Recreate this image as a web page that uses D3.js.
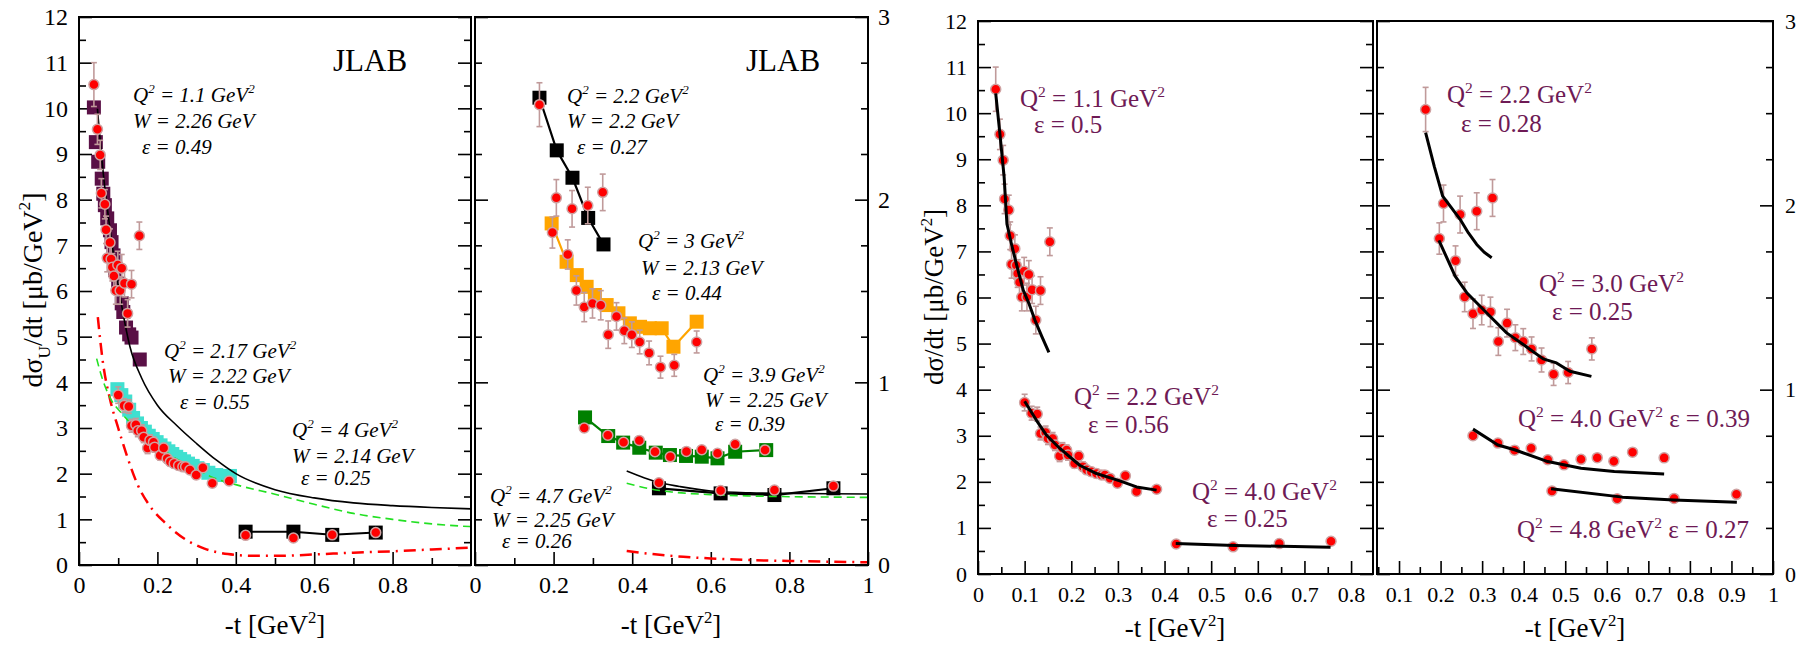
<!DOCTYPE html>
<html>
<head>
<meta charset="utf-8">
<script src="https://cdn.jsdelivr.net/npm/d3@7"></script>
<style>
body { margin: 0; background: #fff; }
text { white-space: pre; }
</style>
</head>
<body>
<div id="chart"></div>
<script>
// ---- data ----
// Q2 = 1.1 (eps 0.49 / 0.5)
const q11T = [0.038, 0.047, 0.054, 0.057, 0.066, 0.069, 0.079, 0.072, 0.082, 0.085, 0.099, 0.089, 0.109, 0.094, 0.105, 0.116, 0.134, 0.124, 0.154];
const q11V = [10.52, 9.54, 8.98, 8.14, 7.9, 7.34, 7.06, 6.72, 6.7, 6.52, 6.57, 6.33, 6.5, 6.01, 6.01, 6.17, 6.15, 5.51, 7.21];
const q11E = [0.48, 0.33, 0.32, 0.32, 0.32, 0.3, 0.3, 0.3, 0.3, 0.3, 0.3, 0.3, 0.3, 0.3, 0.3, 0.3, 0.3, 0.3, 0.3];
const q11SqT = [0.038, 0.043, 0.049, 0.058, 0.062, 0.066, 0.072, 0.079, 0.083, 0.088, 0.092, 0.1, 0.109, 0.113, 0.12, 0.128, 0.134, 0.155];
const q11SqV = [10.02, 9.26, 8.83, 8.46, 8.13, 7.88, 7.59, 7.33, 7.07, 6.78, 6.46, 6.16, 5.73, 5.54, 5.2, 5.05, 4.98, 4.5];
const q11FitT = [0.038, 0.047, 0.056, 0.062, 0.072, 0.082, 0.097, 0.11, 0.122, 0.137, 0.152];
const q11FitV = [10.43, 9.55, 8.62, 7.6, 7.15, 6.74, 6.16, 5.85, 5.51, 5.15, 4.81];

// Q2 = 2.2 (eps 0.55 / 0.56)
const q22aT = [0.1, 0.115, 0.127, 0.134, 0.145, 0.15, 0.16, 0.165, 0.175, 0.181, 0.19, 0.193, 0.207, 0.216, 0.225, 0.233, 0.243, 0.254, 0.265, 0.272, 0.283, 0.299, 0.316, 0.34, 0.383];
const q22aV = [3.72, 3.49, 3.47, 3.05, 3.07, 2.94, 2.94, 2.8, 2.56, 2.73, 2.69, 2.58, 2.4, 2.56, 2.33, 2.26, 2.22, 2.18, 2.15, 2.15, 2.08, 1.97, 2.13, 1.79, 1.84];
const q22aE = [0.18, 0.15, 0.15, 0.14, 0.14, 0.13, 0.13, 0.12, 0.12, 0.12, 0.11, 0.11, 0.1, 0.1, 0.1, 0.09, 0.09, 0.09, 0.08, 0.08, 0.08, 0.08, 0.08, 0.07, 0.07];
const q22aSqT = [0.098, 0.108, 0.118, 0.128, 0.138, 0.148, 0.158, 0.168, 0.178, 0.188, 0.198, 0.208, 0.218, 0.228, 0.238, 0.248, 0.258, 0.268, 0.278, 0.29, 0.302, 0.316, 0.33, 0.35, 0.385];
const q22aSqV = [3.85, 3.72, 3.58, 3.4, 3.22, 3.1, 3.0, 2.92, 2.83, 2.76, 2.69, 2.62, 2.55, 2.49, 2.43, 2.37, 2.32, 2.27, 2.22, 2.17, 2.12, 2.08, 2.02, 1.97, 1.95];
const q22aFitT = [0.1, 0.125, 0.147, 0.175, 0.218, 0.254, 0.304, 0.34, 0.383];
const q22aFitV = [3.75, 3.34, 3.01, 2.73, 2.36, 2.18, 2.02, 1.89, 1.82];

// Q2 = 4 (eps 0.25)
const q40aT = [0.425, 0.547, 0.646, 0.757];
const q40aV = [0.65, 0.59, 0.66, 0.71];
const q40aE = [0.03, 0.03, 0.03, 0.03];
const q40aSqV = [0.73, 0.73, 0.66, 0.71];
const q40aFitT = [0.424, 0.55, 0.756];
const q40aFitV = [0.66, 0.62, 0.58];

// Q2 = 2.2 (eps 0.27 / 0.28)
const q22bT = [0.164, 0.207, 0.247, 0.287, 0.325];
const q22bV = [2.52, 2.01, 1.95, 1.968, 2.04];
const q22bE = [0.12, 0.1, 0.1, 0.1, 0.1];
const q22bSqT = [0.164, 0.208, 0.248, 0.288, 0.327];
const q22bSqV = [2.558, 2.27, 2.12, 1.9, 1.755];
const q22bFitT = [0.164, 0.185, 0.205, 0.225, 0.247, 0.267, 0.287, 0.305, 0.323];
const q22bFitV = [2.395, 2.21, 2.05, 1.99, 1.924, 1.85, 1.788, 1.745, 1.716];

// Q2 = 3 (eps 0.44 / 0.25)
const q30T = [0.197, 0.236, 0.258, 0.278, 0.299, 0.32, 0.339, 0.36, 0.38, 0.399, 0.419, 0.443, 0.472, 0.507, 0.564];
const q30V = [1.82, 1.7, 1.503, 1.412, 1.432, 1.422, 1.261, 1.361, 1.282, 1.261, 1.221, 1.161, 1.083, 1.093, 1.221];
const q30E = [0.085, 0.08, 0.08, 0.08, 0.08, 0.08, 0.075, 0.075, 0.07, 0.07, 0.065, 0.065, 0.06, 0.06, 0.06];
const q30SqT = [0.195, 0.233, 0.259, 0.284, 0.305, 0.335, 0.365, 0.394, 0.42, 0.445, 0.475, 0.505, 0.564];
const q30SqV = [1.87, 1.66, 1.587, 1.523, 1.478, 1.423, 1.378, 1.323, 1.304, 1.296, 1.296, 1.195, 1.332];
const q30FitT = [0.196, 0.235, 0.263, 0.319, 0.359, 0.399, 0.447, 0.479, 0.511, 0.563];
const q30FitV = [1.81, 1.616, 1.526, 1.398, 1.308, 1.245, 1.167, 1.145, 1.1, 1.072];

// Q2 = 3.9 / 4.0 (eps 0.39)
const q39T = [0.278, 0.338, 0.378, 0.418, 0.458, 0.497, 0.538, 0.577, 0.617, 0.662, 0.738];
const q39V = [0.75, 0.71, 0.672, 0.682, 0.62, 0.592, 0.622, 0.631, 0.612, 0.661, 0.63];
const q39E = [0.02, 0.02, 0.02, 0.02, 0.02, 0.02, 0.02, 0.02, 0.02, 0.02, 0.02];
const q39SqT = [0.28, 0.339, 0.377, 0.418, 0.46, 0.496, 0.537, 0.577, 0.617, 0.662, 0.741];
const q39SqV = [0.808, 0.706, 0.67, 0.642, 0.615, 0.602, 0.597, 0.593, 0.584, 0.62, 0.629];
const q39FitT = [0.278, 0.338, 0.378, 0.458, 0.538, 0.618, 0.738];
const q39FitV = [0.786, 0.7, 0.674, 0.61, 0.574, 0.556, 0.543];

// Q2 = 4.7 / 4.8 (eps 0.26 / 0.27)
const q47T = [0.468, 0.625, 0.762, 0.912];
const q47V = [0.45, 0.408, 0.41, 0.432];
const q47E = [0.015, 0.015, 0.015, 0.015];
const q47SqV = [0.42, 0.392, 0.383, 0.42];
const q47FitT = [0.466, 0.638, 0.761, 0.913];
const q47FitV = [0.463, 0.417, 0.402, 0.389];

// model curves, left figure, left panel (left axis)
const lowSolidT = [0.047, 0.062, 0.083, 0.105, 0.13, 0.16, 0.2, 0.25, 0.3, 0.35, 0.4, 0.5, 0.6, 0.7, 0.8, 0.9, 1.0];
const lowSolidV = [9.99, 8.57, 7.11, 5.87, 4.78, 4.09, 3.5, 3.05, 2.66, 2.3, 2.0, 1.65, 1.47, 1.36, 1.3, 1.26, 1.23];
const lowDashT = [0.045, 0.058, 0.08, 0.109, 0.14, 0.168, 0.21, 0.253, 0.3, 0.338, 0.4, 0.5, 0.6, 0.7, 0.8, 0.9, 1.0];
const lowDashV = [4.52, 4.12, 3.65, 3.32, 3.03, 2.81, 2.55, 2.3, 2.1, 1.93, 1.76, 1.55, 1.33, 1.13, 1.0, 0.9, 0.84];
const lowDotT = [0.048, 0.06, 0.08, 0.1, 0.12, 0.15, 0.18, 0.22, 0.27, 0.32, 0.38, 0.45, 0.5, 0.6, 0.7, 0.8, 0.9, 1.0];
const lowDotV = [5.43, 4.5, 3.6, 3.0, 2.45, 1.75, 1.3, 0.92, 0.57, 0.36, 0.24, 0.2, 0.2, 0.23, 0.27, 0.3, 0.34, 0.38];
// model curves, left figure, right panel (right axis)
const hiSolidT = [0.386, 0.43, 0.47, 0.52, 0.6, 0.7, 0.8, 0.9, 1.0];
const hiSolidV = [0.514, 0.478, 0.45, 0.43, 0.405, 0.395, 0.392, 0.39, 0.389];
const hiDashT = [0.386, 0.45, 0.5, 0.6, 0.7, 0.8, 0.9, 1.0];
const hiDashV = [0.447, 0.415, 0.4, 0.385, 0.378, 0.374, 0.372, 0.37];
const hiDotT = [0.386, 0.45, 0.53, 0.6, 0.7, 0.8, 0.9, 1.0];
const hiDotV = [0.077, 0.06, 0.045, 0.036, 0.027, 0.022, 0.018, 0.015];

// tick labels
const xLabA = [0, 0.2, 0.4, 0.6, 0.8];
const xLabB = [0, 0.2, 0.4, 0.6, 0.8, 1];
const xLabC = [0, 0.1, 0.2, 0.3, 0.4, 0.5, 0.6, 0.7, 0.8];
const xLabD = [0.1, 0.2, 0.3, 0.4, 0.5, 0.6, 0.7, 0.8, 0.9, 1];
const yLabL = [0, 1, 2, 3, 4, 5, 6, 7, 8, 9, 10, 11, 12];
const yLabR = [0, 1, 2, 3];

// ---- drawing ----
const serif = '"Liberation Serif","Times New Roman",serif';
const purple = '#6e1a55';
const svg = d3.select('#chart').append('svg')
    .attr('width', 1799).attr('height', 646)
    .style('background', '#fff');

function frame(o) {
    const x = d3.scaleLinear().domain(o.xd).range([o.x0, o.x1]);
    const y = d3.scaleLinear().domain(o.yd).range([o.y1, o.y0]);
    const g = svg.append('g');
    return {x, y, g, o};
}

function axis(p, which, scale, vals, len, fmt, pad, fs) {
    const gen = which === 'left' ? d3.axisLeft(scale) : which === 'right' ? d3.axisRight(scale) : d3.axisBottom(scale);
    gen.tickValues(vals).tickSize(-len).tickPadding(pad).tickFormat(fmt || (() => ''));
    const tr = which === 'left' ? `translate(${p.o.x0},0)` : which === 'right' ? `translate(${p.o.x1},0)` : `translate(0,${p.o.y1})`;
    const a = p.g.append('g').attr('transform', tr).call(gen);
    a.select('.domain').remove();
    a.selectAll('line').attr('stroke', '#000').attr('stroke-width', 1.6);
    a.attr('font-family', serif).attr('font-size', fs);
    a.selectAll('text').attr('fill', '#000');
}

function border(p) {
    p.g.append('rect')
        .attr('x', p.o.x0).attr('y', p.o.y0)
        .attr('width', p.o.x1 - p.o.x0).attr('height', p.o.y1 - p.o.y0)
        .attr('fill', 'none').attr('stroke', '#000').attr('stroke-width', 2);
}

// text with ^{sup} and _{sub}
function rich(g, x, y, str, fs, attrs) {
    const t = g.append('text').attr('x', x).attr('y', y).attr('font-size', fs).attr('font-family', serif);
    Object.entries(attrs || {}).forEach(([k, v]) => t.attr(k, v));
    const parts = str.split(/(\^\{[^}]*\}|_\{[^}]*\})/).filter(s => s.length);
    let shift = 0;
    parts.forEach(s => {
        let dy = 0, txt = s, small = false;
        if (s.startsWith('^{')) { txt = s.slice(2, -1); dy = -0.42 * fs; small = true; }
        else if (s.startsWith('_{')) { txt = s.slice(2, -1); dy = 0.3 * fs; small = true; }
        const span = t.append('tspan').text(txt).attr('dy', dy - shift);
        if (small) span.attr('font-size', fs * 0.62);
        shift = dy;
    });
    return t;
}

function squares(p, y, ts, vs, color, size) {
    p.g.append('g').selectAll('rect').data(d3.zip(ts, vs)).join('rect')
        .attr('x', d => p.x(d[0]) - size / 2)
        .attr('y', d => y(d[1]) - size / 2)
        .attr('width', size).attr('height', size)
        .attr('fill', color);
}

function line(p, y, ts, vs, color, w, dash, curve) {
    const gen = d3.line().x(d => p.x(d[0])).y(d => y(d[1])).curve(curve || d3.curveLinear);
    p.g.append('path').datum(d3.zip(ts, vs))
        .attr('d', gen).attr('fill', 'none')
        .attr('stroke', color).attr('stroke-width', w)
        .attr('stroke-dasharray', dash || null)
        .attr('stroke-linejoin', 'round');
}

function points(p, y, ts, vs, es) {
    const data = d3.zip(ts, vs, es);
    const eb = p.g.append('g').attr('stroke', '#c09a9a').attr('stroke-width', 1.6);
    data.forEach(d => {
        const cx = p.x(d[0]), y1 = y(d[1] - d[2]), y2 = y(d[1] + d[2]);
        eb.append('line').attr('x1', cx).attr('x2', cx).attr('y1', y1).attr('y2', y2);
        eb.append('line').attr('x1', cx - 3).attr('x2', cx + 3).attr('y1', y1).attr('y2', y1);
        eb.append('line').attr('x1', cx - 3).attr('x2', cx + 3).attr('y1', y2).attr('y2', y2);
    });
    p.g.append('g').selectAll('circle').data(data).join('circle')
        .attr('cx', d => p.x(d[0])).attr('cy', d => y(d[1])).attr('r', 5)
        .attr('fill', '#ff0000').attr('stroke', '#cfa2a2').attr('stroke-width', 1.5);
}

const fmt = d => String(+d.toFixed(1));
const halfs = d3.range(0, 25).map(i => i * 0.5);
const quarters = d3.range(0, 13).map(i => i * 0.25);

// ===== left figure =====
const p1 = frame({x0: 79, x1: 471, y0: 17, y1: 565, xd: [0, 1], yd: [0, 12]});
const p2 = frame({x0: 475, x1: 868, y0: 17, y1: 565, xd: [0, 1], yd: [0, 3]});

// panel 1 ticks
axis(p1, 'left', p1.y, halfs.filter(v => v % 1), 7, null, 11, 24);
axis(p1, 'left', p1.y, yLabL, 13, d => d, 11, 24);
axis(p1, 'right', p1.y, halfs.filter(v => v % 1), 7, null, 10, 24);
axis(p1, 'right', p1.y, yLabL, 13, null, 10, 24);
axis(p1, 'bottom', p1.x, [0.1, 0.3, 0.5, 0.7, 0.9], 7, null, 11, 24);
axis(p1, 'bottom', p1.x, xLabA, 13, fmt, 11, 24);
// panel 2 ticks
axis(p2, 'left', p2.y, quarters.filter(v => v % 1), 7, null, 10, 24);
axis(p2, 'left', p2.y, yLabR, 13, null, 10, 24);
axis(p2, 'right', p2.y, quarters.filter(v => v % 1), 7, null, 10, 24);
axis(p2, 'right', p2.y, yLabR, 13, d => d, 10, 24);
axis(p2, 'bottom', p2.x, [0.1, 0.3, 0.5, 0.7, 0.9], 7, null, 11, 24);
axis(p2, 'bottom', p2.x, xLabB, 13, fmt, 11, 24);

// panel 1 series
squares(p1, p1.y, q11SqT, q11SqV, '#5a1046', 14);
squares(p1, p1.y, q22aSqT, q22aSqV, '#40e0d0', 14);
squares(p1, p1.y, q40aT, q40aSqV, '#000', 14);
line(p1, p1.y, q40aT, q40aSqV, '#000', 2);
line(p1, p1.y, lowDotT, lowDotV, '#ff0000', 2.5, '12,6,2,6', d3.curveMonotoneX);
line(p1, p1.y, lowDashT, lowDashV, '#22e022', 1.6, '8,5', d3.curveMonotoneX);
line(p1, p1.y, lowSolidT, lowSolidV, '#000', 1.6, null, d3.curveMonotoneX);
points(p1, p1.y, q11T, q11V, q11E);
points(p1, p1.y, q22aT, q22aV, q22aE);
points(p1, p1.y, q40aT, q40aV, q40aE);

// panel 2 series
squares(p2, p2.y, q22bSqT, q22bSqV, '#000', 14);
line(p2, p2.y, q22bSqT, q22bSqV, '#000', 2.2);
squares(p2, p2.y, q30SqT, q30SqV, '#ffa500', 14);
line(p2, p2.y, q30SqT, q30SqV, '#ffa500', 2.2);
squares(p2, p2.y, q39SqT, q39SqV, '#008000', 14);
line(p2, p2.y, q39SqT, q39SqV, '#008000', 2.2);
squares(p2, p2.y, q47T, q47SqV, '#000', 14);
line(p2, p2.y, q47T, q47SqV, '#000', 2.2);
line(p2, p2.y, hiDotT, hiDotV, '#ff0000', 2.5, '12,6,2,6', d3.curveMonotoneX);
line(p2, p2.y, hiDashT, hiDashV, '#22e022', 1.6, '8,5', d3.curveMonotoneX);
line(p2, p2.y, hiSolidT, hiSolidV, '#000', 1.6, null, d3.curveMonotoneX);
points(p2, p2.y, q22bT, q22bV, q22bE);
points(p2, p2.y, q30T, q30V, q30E);
points(p2, p2.y, q39T, q39V, q39E);
points(p2, p2.y, q47T, q47V, q47E);

border(p1);
border(p2);

// left figure labels
const ital = {'font-style': 'italic'};
rich(svg, 333, 71, 'JLAB', 31);
rich(svg, 746, 71, 'JLAB', 31);
[
    [133, 102, 'Q^{2} = 1.1 GeV^{2}'], [133, 128, 'W = 2.26 GeV'], [142, 154, 'ε = 0.49'],
    [164, 358, 'Q^{2} = 2.17 GeV^{2}'], [168, 383, 'W = 2.22 GeV'], [180, 409, 'ε = 0.55'],
    [292, 437, 'Q^{2} = 4 GeV^{2}'], [292, 463, 'W = 2.14 GeV'], [301, 485, 'ε = 0.25'],
    [567, 103, 'Q^{2} = 2.2 GeV^{2}'], [567, 128, 'W = 2.2 GeV'], [577, 154, 'ε = 0.27'],
    [638, 248, 'Q^{2} = 3 GeV^{2}'], [641, 275, 'W = 2.13 GeV'], [652, 300, 'ε = 0.44'],
    [703, 382, 'Q^{2} = 3.9 GeV^{2}'], [705, 407, 'W = 2.25 GeV'], [715, 431, 'ε = 0.39'],
    [490, 503, 'Q^{2} = 4.7 GeV^{2}'], [492, 527, 'W = 2.25 GeV'], [502, 548, 'ε = 0.26']
].forEach(d => rich(svg, d[0], d[1], d[2], 21, ital));

rich(svg, 275, 634, '-t [GeV^{2}]', 27, {'text-anchor': 'middle'});
rich(svg, 671, 634, '-t [GeV^{2}]', 27, {'text-anchor': 'middle'});
rich(svg.append('g').attr('transform', 'translate(42,290) rotate(-90)'), 0, 0,
    'dσ_{U}/dt [μb/GeV^{2}]', 28, {'text-anchor': 'middle'});

// ===== right figure =====
const p3 = frame({x0: 978, x1: 1373, y0: 21, y1: 574, xd: [0, 0.847], yd: [0, 12]});
const p4 = frame({x0: 1377, x1: 1773, y0: 21, y1: 574, xd: [0.047, 1], yd: [0, 3]});

axis(p3, 'left', p3.y, halfs.filter(v => v % 1), 7, null, 11, 22);
axis(p3, 'left', p3.y, yLabL, 13, d => d, 11, 22);
axis(p3, 'right', p3.y, halfs.filter(v => v % 1), 7, null, 10, 22);
axis(p3, 'right', p3.y, yLabL, 13, null, 10, 22);
axis(p3, 'bottom', p3.x, [0.05, 0.15, 0.25, 0.35, 0.45, 0.55, 0.65, 0.75], 7, null, 12, 22);
axis(p3, 'bottom', p3.x, xLabC, 13, fmt, 12, 22);

axis(p4, 'left', p4.y, quarters.filter(v => v % 1), 7, null, 10, 22);
axis(p4, 'left', p4.y, yLabR, 13, null, 10, 22);
axis(p4, 'right', p4.y, quarters.filter(v => v % 1), 7, null, 12, 22);
axis(p4, 'right', p4.y, yLabR, 13, d => d, 12, 22);
axis(p4, 'bottom', p4.x, [0.05, 0.15, 0.25, 0.35, 0.45, 0.55, 0.65, 0.75, 0.85, 0.95], 7, null, 12, 22);
axis(p4, 'bottom', p4.x, xLabD, 13, fmt, 12, 22);

points(p3, p3.y, q11T, q11V, q11E);
points(p3, p3.y, q22aT, q22aV, q22aE);
points(p3, p3.y, q40aT, q40aV, q40aE);
line(p3, p3.y, q11FitT, q11FitV, '#000', 3);
line(p3, p3.y, q22aFitT, q22aFitV, '#000', 3);
line(p3, p3.y, q40aFitT, q40aFitV, '#000', 3);

points(p4, p4.y, q22bT, q22bV, q22bE);
points(p4, p4.y, q30T, q30V, q30E);
points(p4, p4.y, q39T, q39V, q39E);
points(p4, p4.y, q47T, q47V, q47E);
line(p4, p4.y, q22bFitT, q22bFitV, '#000', 3);
line(p4, p4.y, q30FitT, q30FitV, '#000', 3);
line(p4, p4.y, q39FitT, q39FitV, '#000', 3);
line(p4, p4.y, q47FitT, q47FitV, '#000', 3);

border(p3);
border(p4);

const purp = {fill: purple};
[
    [1020, 107, 'Q^{2} = 1.1 GeV^{2}'], [1034, 133, 'ε = 0.5'],
    [1074, 405, 'Q^{2} = 2.2 GeV^{2}'], [1088, 433, 'ε = 0.56'],
    [1192, 500, 'Q^{2} = 4.0 GeV^{2}'], [1207, 527, 'ε = 0.25'],
    [1447, 103, 'Q^{2} = 2.2 GeV^{2}'], [1461, 132, 'ε = 0.28'],
    [1539, 292, 'Q^{2} = 3.0 GeV^{2}'], [1552, 320, 'ε = 0.25'],
    [1518, 427, 'Q^{2} = 4.0 GeV^{2} ε = 0.39'],
    [1517, 538, 'Q^{2} = 4.8 GeV^{2} ε = 0.27']
].forEach(d => rich(svg, d[0], d[1], d[2], 25, purp));

rich(svg, 1175, 637, '-t [GeV^{2}]', 27, {'text-anchor': 'middle'});
rich(svg, 1575, 637, '-t [GeV^{2}]', 27, {'text-anchor': 'middle'});
rich(svg.append('g').attr('transform', 'translate(943,297) rotate(-90)'), 0, 0,
    'dσ/dt [μb/GeV^{2}]', 27, {'text-anchor': 'middle'});
</script>
</body>
</html>
